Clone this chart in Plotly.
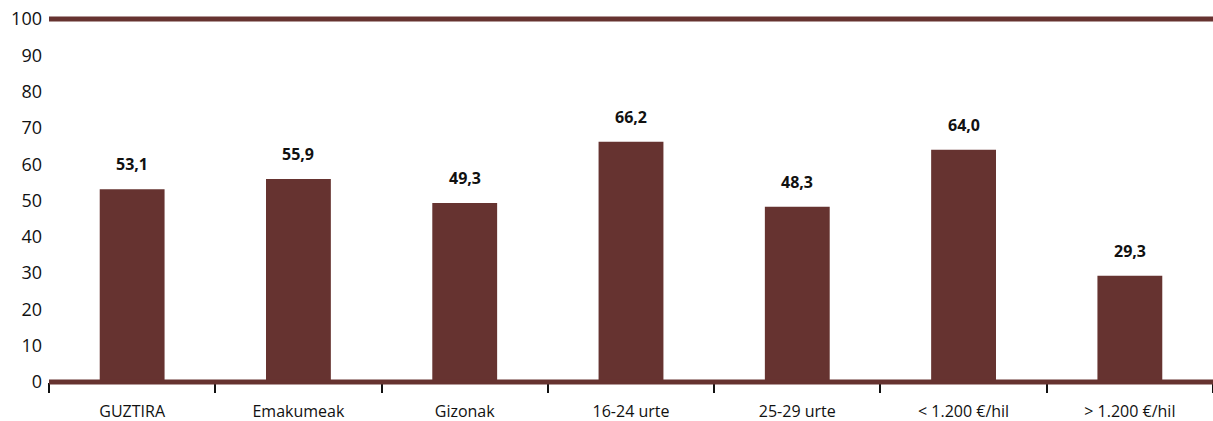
import plotly.graph_objects as go

categories = ["GUZTIRA", "Emakumeak", "Gizonak", "16-24 urte", "25-29 urte", "< 1.200 €/hil", "> 1.200 €/hil"]
values = [53.1, 55.9, 49.3, 66.2, 48.3, 64.0, 29.3]
y_ticks = [0, 10, 20, 30, 40, 50, 60, 70, 80, 90, 100]

BAR = "#663330"
FONT = "Open Sans, DejaVu Sans, sans-serif"

fig = go.Figure()
fig.add_trace(go.Bar(x=categories, y=values, marker=dict(color=BAR, line=dict(width=0)),
                     width=0.39, hoverinfo="skip"))
# invisible copy on the label axis
fig.add_trace(go.Bar(x=categories, y=values, xaxis="x2", opacity=0, width=0.39,
                     hoverinfo="skip", showlegend=False))

for c, v in zip(categories, values):
    fig.add_annotation(x=c, y=v, text="<b>" + f"{v:.1f}".replace(".", ",") + "</b>",
                       showarrow=False, yshift=25, yanchor="middle",
                       font=dict(family=FONT, size=16, color="#111111"))

fig.add_shape(type="line", xref="paper", yref="paper", x0=0, x1=1, y0=1, y1=1,
              line=dict(color=BAR, width=5), layer="above")
fig.add_shape(type="line", xref="paper", yref="paper", x0=0, x1=1, y0=0, y1=0,
              line=dict(color=BAR, width=5), layer="above")

fig.update_layout(
    width=1213, height=421,
    margin=dict(l=49, r=0, t=19, b=39),
    paper_bgcolor="white", plot_bgcolor="white",
    showlegend=False, barmode="overlay",
    font=dict(family=FONT, size=16, color="#111111"),
    xaxis=dict(type="category", tickson="boundaries", ticks="outside", ticklen=10,
               tickcolor="#111111", tickwidth=1.5, showgrid=False, showline=False,
               zeroline=False, showticklabels=False, automargin=False),
    xaxis2=dict(type="category", overlaying="x", matches="x", side="bottom", anchor="y",
                ticks="outside", ticklen=15, tickcolor="rgba(0,0,0,0)",
                showgrid=False, showline=False, zeroline=False,
                tickfont=dict(size=16), automargin=False),
    yaxis=dict(range=[0, 100], tickvals=y_ticks, showgrid=False, zeroline=False,
               showline=False, ticks="", tickfont=dict(size=18), ticklabelstandoff=6,
               automargin=False),
)

fig.write_html("out.html", post_script="document.body.style.margin='0';",
               config={"displayModeBar": False})
